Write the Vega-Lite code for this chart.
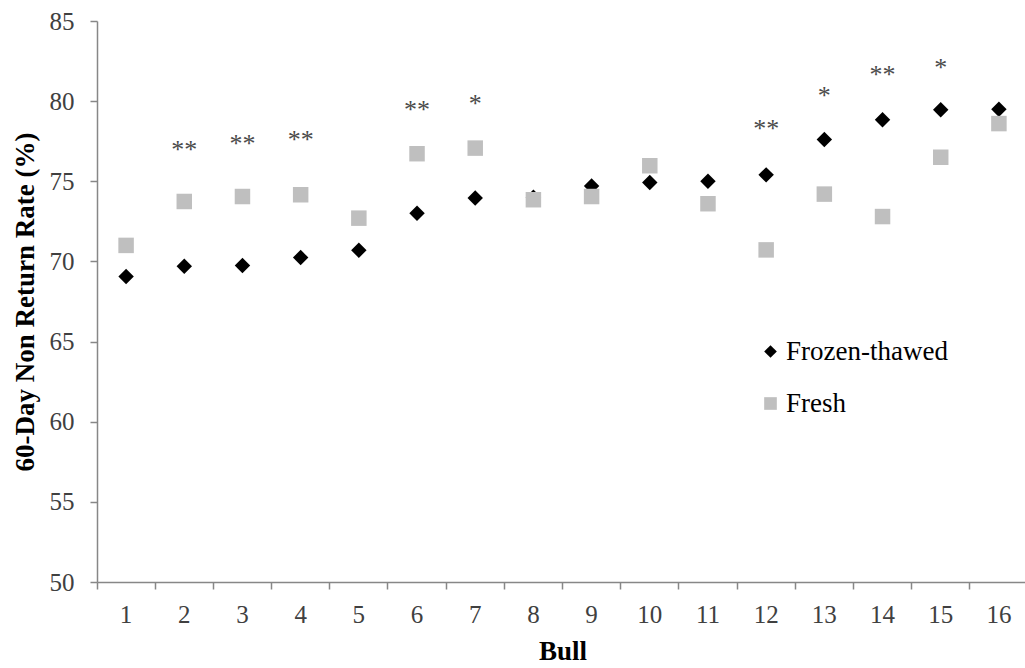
{
  "$schema": "https://vega.github.io/schema/vega-lite/v6.json",
  "autosize": {"type": "none"},
  "padding": {"left": 97, "top": 21, "right": 0, "bottom": 86},
  "width": 931,
  "height": 561,
  "background": "white",
  "config": {
    "view": {"stroke": null},
    "font": "Liberation Serif",
    "axis": {
      "labelFont": "Liberation Serif",
      "titleFont": "Liberation Serif",
      "labelColor": "#404040",
      "titleColor": "#000000",
      "domainColor": "#878787",
      "tickColor": "#878787",
      "domainWidth": 1.5,
      "tickWidth": 1.5,
      "tickSize": 7,
      "grid": false
    },
    "legend": {
      "labelFont": "Liberation Serif", "labelFontSize": 27, "labelColor": "#000000",
      "symbolSize": 160, "labelOffset": 2, "rowPadding": 24, "symbolStrokeWidth": 0,
      "labelLimit": 0
    }
  },
  "datasets": {
    "points": [
      {"bull": 1, "group": "Frozen-thawed", "rate": 69.06},
      {"bull": 2, "group": "Frozen-thawed", "rate": 69.7},
      {"bull": 3, "group": "Frozen-thawed", "rate": 69.75},
      {"bull": 4, "group": "Frozen-thawed", "rate": 70.24},
      {"bull": 5, "group": "Frozen-thawed", "rate": 70.7},
      {"bull": 6, "group": "Frozen-thawed", "rate": 73.0},
      {"bull": 7, "group": "Frozen-thawed", "rate": 73.95},
      {"bull": 8, "group": "Frozen-thawed", "rate": 74.0},
      {"bull": 9, "group": "Frozen-thawed", "rate": 74.7},
      {"bull": 10, "group": "Frozen-thawed", "rate": 74.93},
      {"bull": 11, "group": "Frozen-thawed", "rate": 75.0},
      {"bull": 12, "group": "Frozen-thawed", "rate": 75.4},
      {"bull": 13, "group": "Frozen-thawed", "rate": 77.6},
      {"bull": 14, "group": "Frozen-thawed", "rate": 78.84},
      {"bull": 15, "group": "Frozen-thawed", "rate": 79.46},
      {"bull": 16, "group": "Frozen-thawed", "rate": 79.5},
      {"bull": 1, "group": "Fresh", "rate": 71.0},
      {"bull": 2, "group": "Fresh", "rate": 73.74},
      {"bull": 3, "group": "Fresh", "rate": 74.05},
      {"bull": 4, "group": "Fresh", "rate": 74.16},
      {"bull": 5, "group": "Fresh", "rate": 72.7},
      {"bull": 6, "group": "Fresh", "rate": 76.72},
      {"bull": 7, "group": "Fresh", "rate": 77.07},
      {"bull": 8, "group": "Fresh", "rate": 73.85},
      {"bull": 9, "group": "Fresh", "rate": 74.05},
      {"bull": 10, "group": "Fresh", "rate": 75.97},
      {"bull": 11, "group": "Fresh", "rate": 73.6},
      {"bull": 12, "group": "Fresh", "rate": 70.72},
      {"bull": 13, "group": "Fresh", "rate": 74.2},
      {"bull": 14, "group": "Fresh", "rate": 72.8},
      {"bull": 15, "group": "Fresh", "rate": 76.5},
      {"bull": 16, "group": "Fresh", "rate": 78.6}
    ],
    "signif": [
      {"bull": 2, "mark": "**", "pos": 77.2},
      {"bull": 3, "mark": "**", "pos": 77.6},
      {"bull": 4, "mark": "**", "pos": 77.8},
      {"bull": 6, "mark": "**", "pos": 79.7},
      {"bull": 7, "mark": "*", "pos": 80.1},
      {"bull": 12, "mark": "**", "pos": 78.5},
      {"bull": 13, "mark": "*", "pos": 80.6},
      {"bull": 14, "mark": "**", "pos": 81.9},
      {"bull": 15, "mark": "*", "pos": 82.3}
    ]
  },
  "layer": [
    {
      "data": {"name": "points"},
      "mark": {"type": "point", "filled": true, "opacity": 1, "size": 240},
      "encoding": {
        "x": {
          "field": "bull", "type": "ordinal", "title": "Bull",
          "scale": {"type": "band", "paddingInner": 0, "paddingOuter": 0},
          "axis": {
            "labelAngle": 0, "labelFontSize": 25, "labelPadding": 13,
            "titleFontSize": 27, "titleFontWeight": "bold", "titlePadding": 11,
            "bandPosition": 0
          }
        },
        "y": {
          "field": "rate", "type": "quantitative",
          "title": "60-Day Non Return Rate (%)",
          "scale": {"domain": [50, 85], "nice": false, "zero": false},
          "axis": {
            "values": [50, 55, 60, 65, 70, 75, 80, 85],
            "labelFontSize": 25, "labelPadding": 16,
            "titleFontSize": 27, "titleFontWeight": "bold", "titlePadding": 10
          }
        },
        "shape": {
          "field": "group", "type": "nominal",
          "scale": {"domain": ["Frozen-thawed", "Fresh"], "range": ["diamond", "square"]},
          "legend": {"title": null, "orient": "none", "legendX": 660, "legendY": 317}
        },
        "color": {
          "field": "group", "type": "nominal",
          "scale": {"domain": ["Frozen-thawed", "Fresh"], "range": ["#000000", "#bfbfbf"]},
          "legend": {"title": null, "orient": "none", "legendX": 660, "legendY": 317}
        },
        "order": {"field": "group", "sort": "descending"}
      }
    },
    {
      "data": {"name": "signif"},
      "mark": {"type": "text", "font": "Liberation Serif", "fontSize": 26, "color": "#4a4a4a", "baseline": "middle", "dy": 4},
      "encoding": {
        "x": {"field": "bull", "type": "ordinal"},
        "y": {"field": "pos", "type": "quantitative"},
        "text": {"field": "mark"}
      }
    }
  ]
}
